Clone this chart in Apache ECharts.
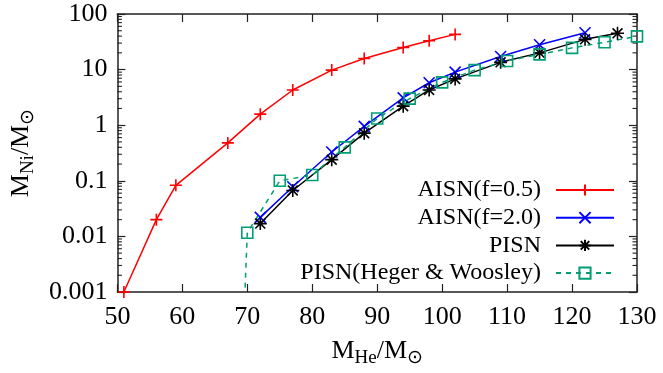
<!DOCTYPE html>
<html><head><meta charset="utf-8">
<script src="https://cdn.jsdelivr.net/npm/echarts@6/dist/echarts.min.js"></script>
<style>html,body{margin:0;padding:0;background:#fff}#c{width:663px;height:373px}</style>
</head><body><div id="c"></div>
<script>
const xTicks = [50,60,70,80,90,100,110,120,130];
const yTicks = [0.001,0.01,0.1,1,10,100];
const minorMultipliers = [2,3,4,5,6,7,8,9];
const decades = [0.001,0.01,0.1,1,10];

const seriesNames = ['AISN(f=0.5)','AISN(f=2.0)','PISN','PISN(Heger & Woosley)'];

const aisn05X = [51,56,59,67,72,77,83,88,94,98,102];
const aisn05Y = [0.001,0.02,0.083,0.48,1.58,4.3,9.8,15.8,25,33,43];

const aisn20X = [72,77,83,88,94,98,102,109,115,122];
const aisn20Y = [0.022,0.078,0.33,0.95,3.1,5.8,9.0,17.2,28,46];

const pisnX = [72,77,83,88,94,98,102,109,115,122,127];
const pisnY = [0.017,0.067,0.24,0.72,2.2,4.3,6.8,13.5,20,35,45];

const hwX = [69.3,70,75,80,85,90,95,100,105,110,115,120,125,130];
const hwY = [0.0001,0.0116,0.1,0.127,0.40,1.32,3.0,5.9,9.8,14.3,18.8,24.6,31,39.6];

const zip = (xs, ys) => xs.map((x, i) => [x, ys[i]]);
const minorVals = [];
decades.forEach(d => minorMultipliers.forEach(m => minorVals.push(+(d*m).toPrecision(3))));

const FONT = 'Liberation Serif';
const AX = '#222';
const plus = 'path://M5,0 L5,10 M0,5 L10,5';
const cross = 'path://M0,0 L10,10 M10,0 L0,10';
const star = 'path://M5,0 L5,10 M0,5 L10,5 M1.2,1.2 L8.8,8.8 M8.8,1.2 L1.2,8.8';
const sq = 'path://M0,0 L10,0 L10,10 L0,10 Z';

const chart = echarts.init(document.getElementById('c'), null, {renderer:'canvas'});
const axisX = (show) => ({
  type:'value', min:50, max:130, interval:10,
  position: show ? 'bottom' : 'top',
  axisLine:{show:true, onZero:false, lineStyle:{color:AX, width:1.5}},
  axisTick:{show:true, inside:true, length:8, lineStyle:{color:AX, width:1.2}},
  axisLabel:{show:show, margin:12, fontFamily:FONT, fontSize:26, color:'#000',
    formatter: v => xTicks.includes(v) ? String(v) : ''},
  splitLine:{show:false},
  name: show ? '{m|M}{s|He}{m|/M}{s|⊙}' : '',
  nameLocation:'middle', nameGap:42,
  nameTextStyle:{rich:{
    m:{fontFamily:FONT, fontSize:26, color:'#000', verticalAlign:'middle', lineHeight:34},
    s:{fontFamily:FONT, fontSize:19, color:'#000', verticalAlign:'bottom', lineHeight:34}
  }}
});
const axisY = (show) => ({
  type:'log', logBase:10, min:0.001, max:100,
  position: show ? 'left' : 'right',
  axisLine:{show:true, onZero:false, lineStyle:{color:AX, width:1.5}},
  axisTick:{show:true, inside:true, length:8, lineStyle:{color:AX, width:1.2}},
  axisLabel:{show:show, margin:10, fontFamily:FONT, fontSize:26, color:'#000',
    formatter: v => { const t = yTicks.find(y => Math.abs(y - v)/y < 1e-6); return t === undefined ? '' : String(t); }},
  splitLine:{show:false},
  name: show ? '{m|M}{s|Ni}{m|/M}{s|⊙}' : '',
  nameLocation:'middle', nameGap:74, nameRotate:90,
  nameTextStyle:{rich:{
    m:{fontFamily:FONT, fontSize:26, color:'#000', verticalAlign:'middle', lineHeight:34},
    s:{fontFamily:FONT, fontSize:19, color:'#000', verticalAlign:'bottom', lineHeight:34}
  }}
});

const lineSeries = (name, data, color, symbol, size, dashed) => ({
  name, type:'line', data, xAxisIndex:0, yAxisIndex:0,
  symbol, symbolSize:size, showSymbol:true, clip:true,
  lineStyle:{color, width:1.5, type: dashed ? [5,5] : 'solid'},
  itemStyle:{color: symbol === sq ? 'rgba(0,0,0,0)' : color, borderColor:color, borderWidth:1.6},
  emphasis:{disabled:true}, animation:false, z:3
});

chart.setOption({
  animation:false,
  backgroundColor:'#fff',
  grid:{left:110, right:26, top:14, bottom:77, containLabel:false},
  xAxis:[axisX(true), axisX(false)],
  yAxis:[axisY(true), axisY(false)],
  legend:{
    data: seriesNames, orient:'vertical', right:48, top:178, align:'right',
    itemWidth:58, itemHeight:14, itemGap:3.7, selectedMode:false, padding:[0,0,0,0],
    textStyle:{fontFamily:FONT, fontSize:24, lineHeight:24, color:'#000', padding:[0,10,0,0]}
  },
  series:[
    lineSeries(seriesNames[0], zip(aisn05X, aisn05Y), '#ff0000', plus, 12, false),
    lineSeries(seriesNames[1], zip(aisn20X, aisn20Y), '#0000ff', cross, 11, false),
    lineSeries(seriesNames[2], zip(pisnX, pisnY), '#000000', star, 13, false),
    lineSeries(seriesNames[3], zip(hwX, hwY), '#009e73', sq, 11, true),
    {
      type:'custom', xAxisIndex:0, yAxisIndex:0, silent:true, clip:false, z:2,
      data: minorVals.map(v => [v]),
      renderItem: (params, api) => {
        const v = api.value(0);
        const a = api.coord([50, v]);
        const b = api.coord([130, v]);
        const st = {stroke:AX, lineWidth:1.1};
        return {type:'group', children:[
          {type:'line', shape:{x1:a[0], y1:a[1], x2:a[0]+4.5, y2:a[1]}, style:st},
          {type:'line', shape:{x1:b[0], y1:b[1], x2:b[0]-4.5, y2:b[1]}, style:st}
        ]};
      }
    }
  ]
});
</script></body></html>
